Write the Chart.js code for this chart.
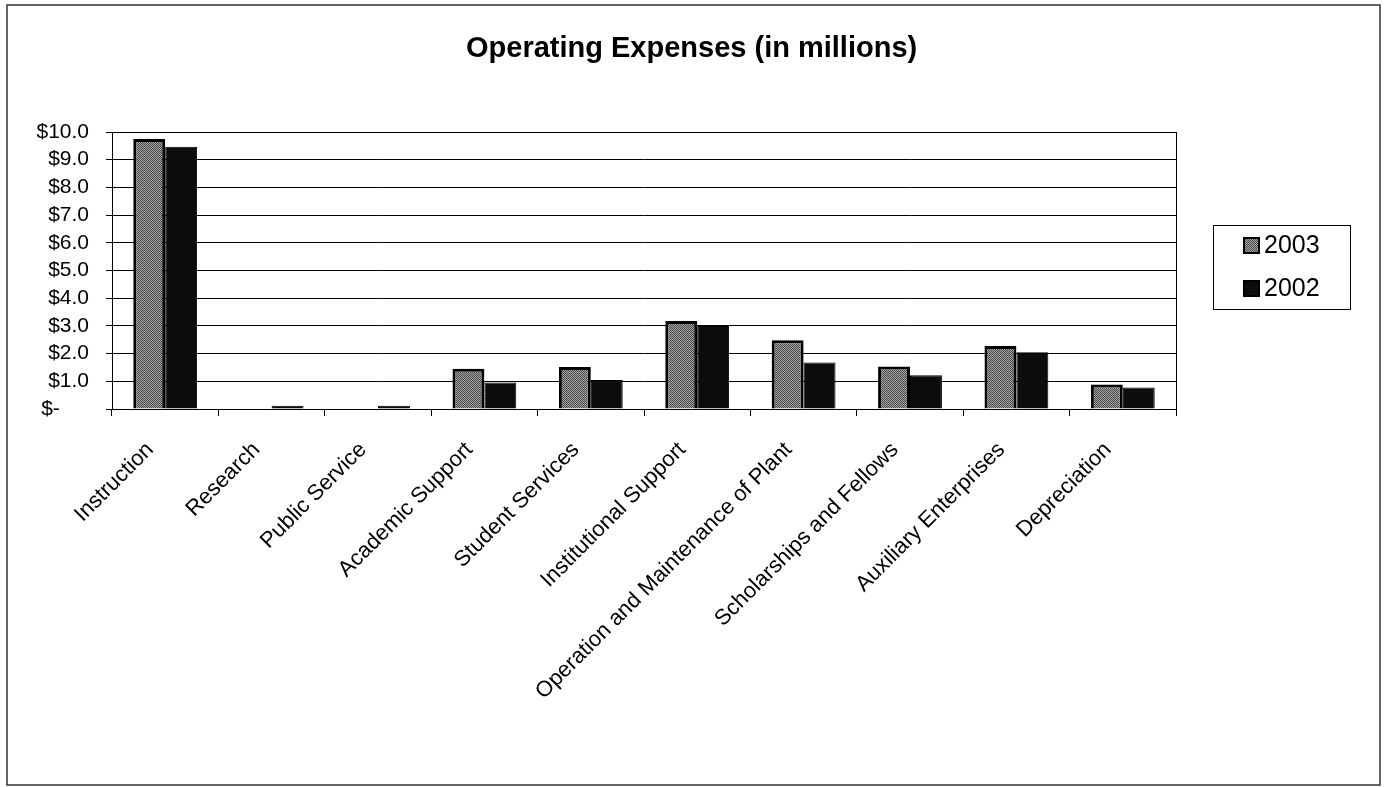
<!DOCTYPE html>
<html>
<head>
<meta charset="utf-8">
<script src="https://cdn.jsdelivr.net/npm/chart.js@4/dist/chart.umd.min.js"></script>
<style>
  html, body { margin: 0; padding: 0; background: #fff; }
  canvas { display: block; }
</style>
</head>
<body>
<canvas id="expensesChart" width="1386" height="787"></canvas>
<script>
const CATEGORIES = [
  'Instruction',
  'Research',
  'Public Service',
  'Academic Support',
  'Student Services',
  'Institutional Support',
  'Operation and Maintenance of Plant',
  'Scholarships and Fellows',
  'Auxiliary Enterprises',
  'Depreciation'
];

const SERIES_LABELS = ['2003', '2002'];
const VALUES_2003 = [9.75, 0, 0, 1.45, 1.52, 3.18, 2.48, 1.53, 2.27, 0.88];
const VALUES_2002 = [9.47, 0.12, 0.12, 0.96, 1.05, 3.0, 1.68, 1.22, 2.05, 0.78];

const Y_MIN = 0;
const Y_MAX = 10;
const Y_STEP = 1;
const TITLE = 'Operating Expenses (in millions)';

const FONT = '"Liberation Sans", Arial, sans-serif';

// speckled grey like the scanned 2003 bars
function makeDither() {
  const pc = document.createElement('canvas');
  pc.width = 2;
  pc.height = 2;
  const p = pc.getContext('2d');
  p.fillStyle = '#a6a6a6';
  p.fillRect(0, 0, 2, 2);
  p.fillStyle = '#484848';
  p.fillRect(0, 0, 1, 1);
  p.fillRect(1, 1, 1, 1);
  return p.createPattern(pc, 'repeat');
}

const ctx = document.getElementById('expensesChart').getContext('2d');
const dither = makeDither();

// frame, plot box, title and the boxed legend
const decorPlugin = {
  id: 'decor',
  afterDraw(chart) {
    const c = chart.ctx;
    const area = chart.chartArea;
    c.save();

    c.strokeStyle = '#000';
    c.lineWidth = 1;
    c.strokeRect(area.left + 0.5, area.top + 0.5, area.right - area.left, area.bottom - area.top);

    c.strokeStyle = '#333';
    c.lineWidth = 1.5;
    c.strokeRect(7, 5, 1373, 780);

    c.fillStyle = '#000';
    c.font = 'bold 29px ' + FONT;
    c.textAlign = 'left';
    c.textBaseline = 'middle';
    c.fillText(TITLE, 466, 49);

    // legend
    c.strokeStyle = '#000';
    c.lineWidth = 1;
    c.strokeRect(1213.5, 225.5, 137, 84);
    c.font = '25px ' + FONT;
    chart.data.datasets.forEach((ds, i) => {
      const y = 245 + i * 43;
      c.fillStyle = ds.backgroundColor;
      c.fillRect(1244, y - 7, 15, 15);
      c.strokeStyle = '#000';
      c.lineWidth = 2;
      c.strokeRect(1244, y - 7, 15, 15);
      c.fillStyle = '#000';
      c.fillText(ds.label, 1264, y + 1);
    });

    c.restore();
  }
};

new Chart(ctx, {
  type: 'bar',
  data: {
    labels: CATEGORIES,
    datasets: [
      {
        label: SERIES_LABELS[0],
        data: VALUES_2003,
        backgroundColor: dither,
        borderColor: '#000',
        borderWidth: 3
      },
      {
        label: SERIES_LABELS[1],
        data: VALUES_2002,
        backgroundColor: '#0c0c0c',
        borderColor: '#000',
        borderWidth: 1
      }
    ]
  },
  options: {
    responsive: false,
    animation: false,
    events: [],
    layout: {
      padding: { left: 7, top: 132, right: 210, bottom: 18 }
    },
    datasets: {
      bar: { categoryPercentage: 0.6, barPercentage: 1.0 }
    },
    plugins: {
      legend: { display: false },
      title: { display: false },
      tooltip: { enabled: false }
    },
    scales: {
      x: {
        grid: {
          display: true,
          drawOnChartArea: false,
          drawTicks: true,
          tickLength: 7,
          color: '#000',
          offset: true
        },
        border: { color: '#000', width: 1 },
        ticks: {
          autoSkip: false,
          minRotation: 45,
          maxRotation: 45,
          padding: 21,
          labelOffset: -15,
          color: '#000',
          font: { family: FONT, size: 22 }
        },
        afterFit(scale) {
          scale.height = 360;
        }
      },
      y: {
        min: Y_MIN,
        max: Y_MAX,
        grid: {
          color: '#000',
          lineWidth: 1,
          tickLength: 6
        },
        border: { color: '#000', width: 1 },
        ticks: {
          stepSize: Y_STEP,
          autoSkip: false,
          padding: 17,
          color: '#000',
          font: { family: FONT, size: 21 },
          callback: v => v === 0 ? '$-     ' : '$' + v.toFixed(1)
        },
        afterFit(scale) {
          scale.width = 105;
        }
      }
    }
  },
  plugins: [decorPlugin]
});
</script>
</body>
</html>
